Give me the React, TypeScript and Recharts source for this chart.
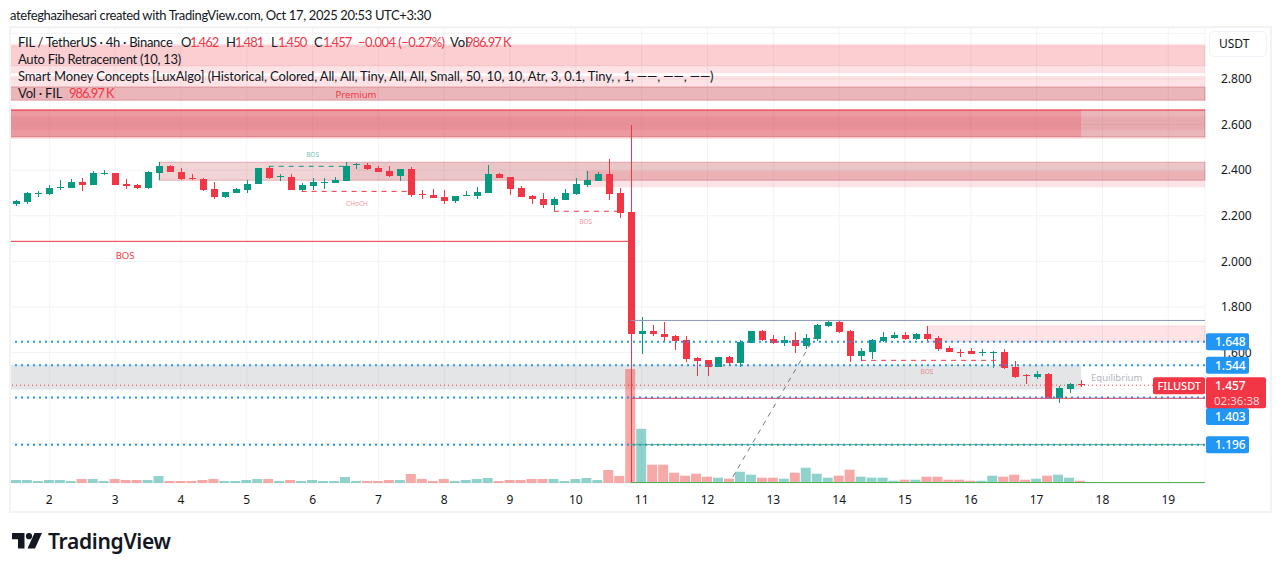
import React from 'react'
import { ComposedChart, Bar, Cell, XAxis, YAxis, CartesianGrid, ReferenceArea, ReferenceLine, ReferenceDot } from 'recharts'

// 4h candles, FIL/USDT. index 0 is the first bar on screen
const opens = [
  2.252, 2.26, 2.297, 2.296, 2.32, 2.322, 2.348, 2.335, 2.383, 2.388,
  2.339, 2.335, 2.322, 2.388, 2.418, 2.392, 2.366, 2.361, 2.318, 2.282,
  2.3, 2.313, 2.339, 2.41, 2.37, 2.37, 2.313, 2.331, 2.344, 2.344,
  2.353, 2.423, 2.423, 2.41, 2.396, 2.374, 2.405, 2.296, 2.291, 2.282,
  2.265, 2.287, 2.287, 2.3, 2.383, 2.37, 2.322, 2.287, 2.274, 2.247,
  2.269, 2.296, 2.335, 2.353, 2.383, 2.3, 2.217, 1.682, 1.695, 1.682,
  1.673, 1.655, 1.576, 1.568, 1.537, 1.581, 1.554, 1.642, 1.695, 1.66,
  1.642, 1.655, 1.629, 1.66, 1.717, 1.734, 1.695, 1.585, 1.603, 1.651,
  1.664, 1.677, 1.66, 1.682, 1.664, 1.62, 1.603, 1.607, 1.598, 1.598,
  1.603, 1.537, 1.502, 1.493, 1.506, 1.401, 1.44, 1.462,
]
const highs = [
  2.271, 2.304, 2.307, 2.334, 2.357, 2.36, 2.366, 2.395, 2.401, 2.388,
  2.361, 2.339, 2.395, 2.436, 2.423, 2.41, 2.383, 2.366, 2.348, 2.304,
  2.322, 2.357, 2.41, 2.418, 2.383, 2.383, 2.344, 2.366, 2.366, 2.37,
  2.436, 2.431, 2.431, 2.418, 2.418, 2.405, 2.414, 2.313, 2.318, 2.313,
  2.287, 2.309, 2.326, 2.423, 2.388, 2.37, 2.331, 2.291, 2.3, 2.282,
  2.318, 2.366, 2.396, 2.392, 2.449, 2.32, 2.6, 1.756, 1.721, 1.734,
  1.677, 1.673, 1.581, 1.568, 1.581, 1.585, 1.655, 1.695, 1.699, 1.677,
  1.673, 1.69, 1.682, 1.726, 1.743, 1.739, 1.699, 1.62, 1.658, 1.69,
  1.69, 1.69, 1.686, 1.717, 1.673, 1.629, 1.616, 1.62, 1.616, 1.607,
  1.616, 1.563, 1.506, 1.519, 1.511, 1.454, 1.465, 1.481,
]
const lows = [
  2.243, 2.253, 2.282, 2.291, 2.313, 2.322, 2.309, 2.335, 2.379, 2.335,
  2.318, 2.318, 2.318, 2.357, 2.392, 2.357, 2.357, 2.309, 2.274, 2.278,
  2.3, 2.3, 2.339, 2.361, 2.353, 2.313, 2.306, 2.313, 2.318, 2.344,
  2.353, 2.405, 2.401, 2.392, 2.37, 2.353, 2.282, 2.274, 2.278, 2.252,
  2.256, 2.287, 2.274, 2.3, 2.366, 2.291, 2.282, 2.252, 2.234, 2.221,
  2.269, 2.291, 2.326, 2.353, 2.269, 2.19, 1.03, 1.594, 1.673, 1.649,
  1.611, 1.559, 1.497, 1.497, 1.537, 1.541, 1.537, 1.642, 1.651, 1.638,
  1.629, 1.598, 1.616, 1.651, 1.712, 1.686, 1.559, 1.565, 1.572, 1.646,
  1.66, 1.655, 1.655, 1.651, 1.608, 1.603, 1.581, 1.594, 1.585, 1.532,
  1.528, 1.489, 1.462, 1.484, 1.401, 1.379, 1.423, 1.45,
]
const closes = [
  2.265, 2.3, 2.301, 2.322, 2.326, 2.348, 2.335, 2.388, 2.388, 2.335,
  2.331, 2.322, 2.392, 2.418, 2.392, 2.361, 2.361, 2.313, 2.282, 2.304,
  2.318, 2.339, 2.41, 2.366, 2.374, 2.313, 2.335, 2.348, 2.348, 2.357,
  2.418, 2.427, 2.405, 2.392, 2.374, 2.405, 2.291, 2.291, 2.278, 2.265,
  2.287, 2.291, 2.304, 2.383, 2.366, 2.318, 2.282, 2.274, 2.247, 2.274,
  2.3, 2.339, 2.357, 2.383, 2.296, 2.212, 1.682, 1.695, 1.682, 1.668,
  1.651, 1.572, 1.563, 1.537, 1.581, 1.554, 1.646, 1.695, 1.655, 1.642,
  1.655, 1.629, 1.664, 1.721, 1.734, 1.69, 1.585, 1.607, 1.655, 1.668,
  1.677, 1.66, 1.682, 1.66, 1.616, 1.603, 1.598, 1.594, 1.603, 1.603,
  1.532, 1.493, 1.497, 1.506, 1.401, 1.445, 1.462, 1.457,
]
// volume in millions of FIL
const volumes = [
  1.29, 1.29, 0.86, 1.29, 1.29, 0.86, 1.72, 1.72, 0.86, 1.72,
  1.29, 1.29, 1.29, 3.01, 0.86, 0.86, 0.86, 1.29, 1.72, 0.86,
  0.86, 1.29, 1.72, 1.72, 0.86, 1.29, 0.86, 1.29, 0.86, 0.86,
  2.58, 0.86, 0.86, 0.86, 1.29, 1.29, 3.87, 1.72, 0.86, 1.72,
  0.86, 1.29, 1.72, 2.15, 0.86, 1.29, 1.29, 1.72, 1.72, 1.72,
  0.86, 1.72, 2.15, 1.29, 5.59, 3.01, 49.0, 23.3, 7.87, 7.87,
  4.43, 3.14, 4.0, 2.71, 2.28, 1.85, 4.86, 3.57, 2.28, 2.28,
  1.85, 4.43, 6.58, 4.0, 2.28, 3.14, 5.72, 2.71, 2.28, 2.28,
  0.99, 1.42, 1.42, 2.71, 2.71, 1.42, 1.42, 0.99, 0.99, 3.14,
  2.71, 3.57, 1.42, 1.85, 3.14, 3.57, 2.28, 0.987,
]

const dayTicks = [3, 9, 15, 21, 27, 33, 39, 45, 51, 57, 63, 69, 75, 81, 87, 93, 99, 105]
const dayLabels = ['2', '3', '4', '5', '6', '7', '8', '9', '10', '11', '12', '13', '14', '15', '16', '17', '18', '19']
const priceTicks = [1.2, 1.4, 1.6, 1.8, 2.0, 2.2, 2.4, 2.6, 2.8, 3.0]
// these three grid levels sit under the tags and have no visible label
const unlabelledTicks = [1.2, 1.4, 3.0]

const X_MIN = -0.583
const X_MAX = 108.35
const ZONE_END = 97.05
const PRICE_MIN = 1.028
const PRICE_MAX = 3.0237
const VOL_MAX = 195.65

const levels = [1.648, 1.544, 1.403, 1.196]
const levelLabels = ['1.648', '1.544', '1.403', '1.196']
const lastPrice = 1.457

const fibLight = [[2.9535, 2.825], [2.813, 2.707], [2.664, 2.537]]
const fibMid = [[2.945, 2.858]]
const fibDark = [[2.765, 2.707], [2.664, 2.546]]
const fibCore = [[2.635, 2.576]]
const blockTop = [2.664, 2.546]
const blockBand = [2.435, 2.356]
const lowerBand = [2.398, 2.325]
const supply = [1.717, 1.647]
const equilibrium = [1.546, 1.438]

const candles = opens.map((o, i) => ({
  i,
  o,
  h: highs[i],
  l: lows[i],
  c: closes[i],
  v: volumes[i],
}))

const UP = '#089981'
const DOWN = '#f23645'
const TEXT = '#131722'
const FONT = 'Lato, sans-serif'
const AXIS_FONT = '"Noto Sans", sans-serif'

function Candle(props: any) {
  const { x, y, width, height, payload } = props
  const k = height / (payload.h - payload.l)
  const color = payload.c >= payload.o ? UP : DOWN
  const top = Math.round(y + (payload.h - Math.max(payload.o, payload.c)) * k)
  const bodyH = Math.max(1, Math.round(Math.abs(payload.o - payload.c) * k))
  const mid = Math.round(x + width / 2)
  return (
    <g shapeRendering="crispEdges">
      <rect x={mid - 0.5} y={y} width={1} height={height} fill={color} />
      <rect x={mid - 3.5} y={top} width={7} height={bodyH} fill={color} />
    </g>
  )
}

function Note(props: any) {
  const { cx, cy, text, size, color } = props
  return (
    <text x={cx} y={cy} fontSize={size} fill={color} fontFamily={AXIS_FONT} textAnchor="middle" dominantBaseline="central">
      {text}
    </text>
  )
}

function PriceTag(props: any) {
  const { cy, text, nudge = 0 } = props
  return (
    <g>
      <rect x={props.cx + 1} y={cy + nudge - 8.5} width={43} height={17} rx={2} fill="#2196f3" />
      <text x={props.cx + 10} y={cy + nudge} fontSize={12} fontWeight={500} fill="#fff" fontFamily={AXIS_FONT} dominantBaseline="central">
        {text}
      </text>
    </g>
  )
}

function LastTag(props: any) {
  const { cx, cy } = props
  return (
    <g>
      <rect x={cx - 52} y={cy - 8} width={52} height={17} rx={2} fill={DOWN} />
      <text x={cx - 47.5} y={cy} fontSize={11} fontWeight={500} fill="#fff" fontFamily={AXIS_FONT} dominantBaseline="central">FILUSDT</text>
      <rect x={cx + 1} y={cy - 8} width={60} height={31} rx={2} fill={DOWN} />
      <text x={cx + 10} y={cy} fontSize={12} fontWeight={500} fill="#fff" fontFamily={AXIS_FONT} dominantBaseline="central">1.457</text>
      <text x={cx + 9} y={cy + 15} fontSize={11.5} fill="#fbd5d8" fontFamily={AXIS_FONT} dominantBaseline="central">02:36:38</text>
    </g>
  )
}

const legendText = (left: number, top: number, text: string, color: string = TEXT, spacing: number = 0) => (
  <span style={{ position: 'absolute', left, top: top - 9, lineHeight: '18px', fontSize: 13, color, whiteSpace: 'nowrap', letterSpacing: spacing }}>{text}</span>
)

export default function App() {
  return (
    <div style={{ position: 'absolute', left: 0, top: 0, width: 1281, height: 571, overflow: 'hidden', background: '#fff', fontFamily: FONT }}>
      <ComposedChart width={1281} height={571} data={candles} margin={{ top: 28, right: 10, bottom: 60, left: 10 }}>
        <CartesianGrid stroke="#f3f3f5" />
        <XAxis
          dataKey="i"
          type="number"
          domain={[X_MIN, X_MAX]}
          allowDataOverflow
          ticks={dayTicks}
          interval={0}
          tickFormatter={(v: number) => dayLabels[dayTicks.indexOf(v)]}
          axisLine={false}
          tickLine={false}
          height={28}
          tickMargin={6}
          tick={{ fill: TEXT, fontSize: 12, fontFamily: AXIS_FONT }}
        />
        <XAxis xAxisId="vol" dataKey="i" type="number" domain={[X_MIN, X_MAX]} allowDataOverflow hide />
        <YAxis
          orientation="right"
          width={66}
          domain={[PRICE_MIN, PRICE_MAX]}
          allowDataOverflow
          ticks={priceTicks}
          interval={0}
          tickFormatter={(v: number) => (unlabelledTicks.includes(v) ? '' : v.toFixed(3))}
          axisLine={false}
          tickLine={false}
          tickMargin={10}
          tick={{ fill: TEXT, fontSize: 12, fontFamily: AXIS_FONT, textAnchor: 'start' }}
        />
        <YAxis yAxisId="vol" domain={[0, VOL_MAX]} hide />

        {fibLight.map(([a, b]) => (
          <ReferenceArea key={a} y1={a} y2={b} fill="rgba(242,54,69,0.14)" fillOpacity={1} stroke="none" />
        ))}
        {fibMid.map(([a, b]) => (
          <ReferenceArea key={a} y1={a} y2={b} fill="rgba(242,54,69,0.12)" fillOpacity={1} stroke="rgba(242,54,69,0.12)" />
        ))}
        {fibDark.map(([a, b]) => (
          <ReferenceArea key={a} y1={a} y2={b} fill="rgba(178,40,51,0.24)" fillOpacity={1} stroke="rgba(178,40,51,0.3)" />
        ))}
        {fibCore.map(([a, b]) => (
          <ReferenceArea key={a} y1={a} y2={b} fill="rgba(178,40,51,0.08)" fillOpacity={1} stroke="none" />
        ))}
        <ReferenceArea x1={X_MIN} x2={ZONE_END} y1={blockTop[0]} y2={blockTop[1]} fill="rgba(242,54,69,0.22)" fillOpacity={1} stroke="none" />
        <ReferenceArea x1={13} x2={X_MAX} y1={blockBand[0]} y2={blockBand[1]} fill="rgba(178,40,51,0.2)" fillOpacity={1} stroke="rgba(178,40,51,0.3)" />
        <ReferenceArea x1={30} x2={X_MAX} y1={blockBand[0]} y2={blockBand[1]} fill="rgba(178,40,51,0.08)" fillOpacity={1} stroke="none" />
        <ReferenceArea x1={51.9} x2={X_MAX} y1={lowerBand[0]} y2={lowerBand[1]} fill="rgba(242,54,69,0.14)" fillOpacity={1} stroke="none" />
        <ReferenceArea x1={83} x2={X_MAX} y1={supply[0]} y2={supply[1]} fill="rgba(242,54,69,0.14)" fillOpacity={1} stroke="rgba(242,54,69,0.14)" />
        <ReferenceArea x1={X_MIN} x2={ZONE_END} y1={equilibrium[0]} y2={equilibrium[1]} fill="rgba(120,123,134,0.2)" fillOpacity={1} stroke="none" />

        <Bar xAxisId="vol" yAxisId="vol" dataKey="v" barSize={10} isAnimationActive={false}>
          {candles.map((d) => (
            <Cell key={d.i} fill={d.c >= d.o ? 'rgba(38,166,154,0.5)' : 'rgba(239,83,80,0.5)'} />
          ))}
        </Bar>

        <ReferenceLine y={2.664} stroke={DOWN} />
        <ReferenceLine segment={[{ x: X_MIN, y: 2.088 }, { x: 56, y: 2.088 }]} stroke={DOWN} />
        <ReferenceLine segment={[{ x: 56, y: 1.741 }, { x: X_MAX, y: 1.741 }]} stroke="#8c94bd" />
        <ReferenceLine segment={[{ x: 56, y: 1.3995 }, { x: X_MAX, y: 1.3995 }]} stroke={DOWN} />
        <ReferenceLine segment={[{ x: 56, y: 1.196 }, { x: X_MAX, y: 1.196 }]} stroke="#4caf50" />
        <ReferenceLine segment={[{ x: 56, y: 1.03 }, { x: X_MAX, y: 1.03 }]} stroke="#4caf50" />
        <ReferenceLine segment={[{ x: 23, y: 2.417 }, { x: 30, y: 2.417 }]} stroke={UP} strokeDasharray="5 5" />
        <ReferenceLine segment={[{ x: 26, y: 2.307 }, { x: 36, y: 2.307 }]} stroke={DOWN} strokeDasharray="5 5" />
        <ReferenceLine segment={[{ x: 49, y: 2.22 }, { x: 55, y: 2.22 }]} stroke={DOWN} strokeDasharray="5 5" />
        <ReferenceLine segment={[{ x: 77, y: 1.566 }, { x: 89.5, y: 1.566 }]} stroke={DOWN} strokeDasharray="5 5" />
        <ReferenceLine segment={[{ x: 65.3, y: 1.054 }, { x: 73.5, y: 1.73 }]} stroke="#787b86" strokeDasharray="5 5" />
        {levels.map((v) => (
          <ReferenceLine key={v} y={v} stroke="#2196f3" strokeWidth={2} strokeDasharray="2 4" />
        ))}
        <ReferenceLine y={lastPrice} stroke={DOWN} strokeDasharray="1 3" />

        <Bar dataKey={(d: any) => [d.l, d.h]} barSize={7} shape={Candle} isAnimationActive={false} />

        <ReferenceDot x={9.91} y={2.024} r={0} ifOverflow="visible" shape={(p: any) => <Note {...p} text="BOS" size={9.5} color={DOWN} />} />
        <ReferenceDot x={30.96} y={2.734} r={0} ifOverflow="visible" shape={(p: any) => <Note {...p} text="Premium" size={9.5} color={DOWN} />} />
        <ReferenceDot x={27} y={2.471} r={0} ifOverflow="visible" shape={(p: any) => <Note {...p} text="BOS" size={6.5} color="rgba(8,153,129,0.65)" />} />
        <ReferenceDot x={31.05} y={2.256} r={0} ifOverflow="visible" shape={(p: any) => <Note {...p} text="CHoCH" size={6.5} color="rgba(242,54,69,0.6)" />} />
        <ReferenceDot x={51.9} y={2.173} r={0} ifOverflow="visible" shape={(p: any) => <Note {...p} text="BOS" size={6.5} color="rgba(242,54,69,0.6)" />} />
        <ReferenceDot x={83} y={1.515} r={0} ifOverflow="visible" shape={(p: any) => <Note {...p} text="BOS" size={6.5} color="rgba(242,54,69,0.6)" />} />
        <ReferenceDot x={100.3} y={1.489} r={0} ifOverflow="visible" shape={(p: any) => <Note {...p} text="Equilibrium" size={9.5} color="#b2b5be" />} />

        {levels.map((v, n) => (
          <ReferenceDot
            key={v}
            x={X_MAX}
            y={v}
            r={0}
            ifOverflow="visible"
            zIndex={2500}
            shape={(p: any) => <PriceTag {...p} text={levelLabels[n]} nudge={v === 1.403 ? 19 : 0} />}
          />
        ))}
        <ReferenceDot x={X_MAX} y={lastPrice} r={0} ifOverflow="visible" zIndex={2500} shape={(p: any) => <LastTag {...p} />} />
      </ComposedChart>

      {/* page text around the chart, not part of the plot */}
      {legendText(10, 15, 'atefeghazihesari created with TradingView.com, Oct 17, 2025 20:53 UTC+3:30', TEXT, -0.37)}
      {legendText(18, 42, 'FIL / TetherUS · 4h · Binance', TEXT, -0.28)}
      {legendText(181, 42, 'O')}
      {legendText(190, 42, '1.462', DOWN, -1)}
      {legendText(226, 42, 'H')}
      {legendText(235, 42, '1.481', DOWN, -1)}
      {legendText(271, 42, 'L')}
      {legendText(278, 42, '1.450', DOWN, -1)}
      {legendText(314, 42, 'C')}
      {legendText(323, 42, '1.457', DOWN, -1)}
      {legendText(358, 42, '−0.004 (−0.27%)', DOWN, -0.55)}
      {legendText(450, 42, 'Vol')}
      {legendText(466, 42, '986.97 K', DOWN, -1)}
      {legendText(18, 59, 'Auto Fib Retracement (10, 13)', TEXT, -0.3)}
      {legendText(18, 76, 'Smart Money Concepts [LuxAlgo] (Historical, Colored, All, All, Tiny, All, All, Small, 50, 10, 10, Atr, 3, 0.1, Tiny, , 1, ——, ——, ——)', TEXT, -0.12)}
      {legendText(18, 93, 'Vol · FIL', TEXT, -0.2)}
      {legendText(69, 93, '986.97 K', DOWN, -1)}

      {/* frame */}
      <div style={{ position: 'absolute', left: 9, top: 26, width: 1259, height: 483, border: '2px solid #f2f3f5', pointerEvents: 'none' }} />
      <div style={{ position: 'absolute', left: 1209, top: 31, width: 56, height: 24, border: '1px solid #f0f3fa', borderRadius: 5, background: '#fff', fontSize: 12, color: TEXT, lineHeight: '24px', textIndent: 9, fontFamily: AXIS_FONT }}>USDT</div>

      {/* logo */}
      <svg style={{ position: 'absolute', left: 12, top: 533 }} width={30} height={16} viewBox="0 0 30 16">
        <path d="M0 0H12.5V15.5H6V6.2H0Z" fill="#131722" />
        <circle cx="17" cy="3.2" r="3.1" fill="#131722" />
        <path d="M22.5 0H30L23 15.5H15.5Z" fill="#131722" />
      </svg>
      <span style={{ position: 'absolute', left: 48, top: 526, fontSize: 21, lineHeight: '30px', fontWeight: 600, color: '#131722', letterSpacing: -0.3, fontFamily: AXIS_FONT }}>TradingView</span>
    </div>
  )
}
